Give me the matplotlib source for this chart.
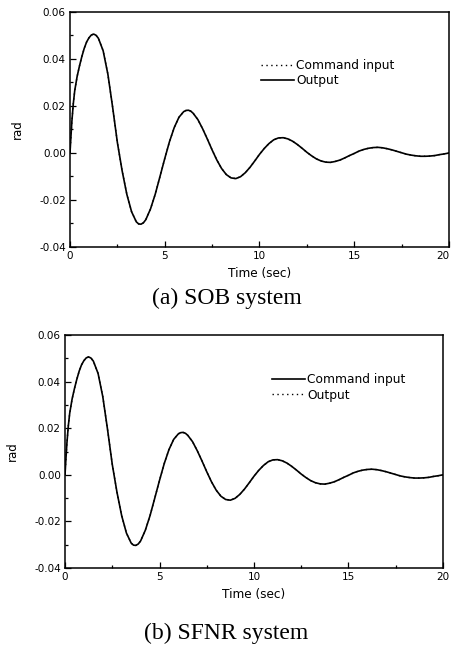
import matplotlib
matplotlib.use("Agg")
import matplotlib.pyplot as plt
from matplotlib.ticker import MultipleLocator

# =============================
# DATA
# =============================
time_sec = [0.0, 0.05, 0.1, 0.175, 0.25, 0.375, 0.5, 0.625, 0.75, 0.875, 1.0, 1.125, 1.25, 1.375, 1.5,
            1.75, 2.0, 2.25, 2.5, 2.75,
            3.0, 3.25, 3.5, 3.625, 3.75, 3.875, 4.0, 4.25, 4.5, 4.75, 5.0, 5.25, 5.5, 5.75,
            6.0, 6.125, 6.25, 6.375, 6.5, 6.75, 7.0, 7.25, 7.5, 7.75, 8.0, 8.25, 8.5, 8.75,
            9.0, 9.25, 9.5, 9.75, 10.0, 10.25, 10.5, 10.75, 11.0, 11.25, 11.5, 11.75,
            12.0, 12.25, 12.5, 12.75, 13.0, 13.25, 13.5, 13.75, 14.0, 14.25, 14.5, 14.75,
            15.0, 15.25, 15.5, 15.75, 16.0, 16.25, 16.5, 16.75, 17.0, 17.25, 17.5, 17.75,
            18.0, 18.25, 18.5, 18.75, 19.0, 19.25, 19.5, 19.75, 20.0]

command_rad = [0.0000, 0.0070, 0.0135, 0.0210, 0.0265, 0.0325, 0.0370, 0.0410, 0.0445, 0.0472, 0.0490, 0.0502, 0.0506, 0.0501, 0.0488,
               0.0435, 0.0335, 0.0195, 0.0045, -0.0075,
               -0.0176, -0.0250, -0.0293, -0.0302, -0.0303, -0.0297, -0.0284, -0.0238, -0.0175, -0.0100, -0.0024, 0.0048, 0.0108, 0.0152,
               0.0176, 0.0181, 0.0182, 0.0178, 0.0169, 0.0142, 0.0103, 0.0059, 0.0013, -0.0030, -0.0066, -0.0092, -0.0106, -0.0109,
               -0.0101, -0.0084, -0.0061, -0.0034, -0.0006, 0.0019, 0.0040, 0.0056, 0.0064, 0.0065, 0.0060, 0.0050,
               0.0036, 0.0020, 0.0003, -0.0012, -0.0025, -0.0034, -0.0039, -0.0040, -0.0036, -0.0030, -0.0021, -0.0011,
               -0.0002, 0.0008, 0.0015, 0.0020, 0.0023, 0.0024, 0.0022, 0.0018, 0.0013, 0.0007, 0.0001, -0.0005,
               -0.0009, -0.0012, -0.0014, -0.0014, -0.0013, -0.0011, -0.0007, -0.0004, 0.0000]

# output tracks the command so closely the two curves overlap
output_rad = list(command_rad)

x_ticks = [0, 5, 10, 15, 20]
y_ticks = [-0.04, -0.02, 0.0, 0.02, 0.04, 0.06]
captions = ["(a) SOB system", "(b) SFNR system"]

SANS = "DejaVu Sans"
SERIF = "Liberation Serif"

fig = plt.figure(figsize=(4.53, 6.45), dpi=100)

# axes boxes in figure fraction (left, bottom, width, height)
boxes = [(0.1545, 0.6171, 0.8366, 0.3643),
         (0.1435, 0.1194, 0.8344, 0.3612)]
legend_anchor = [(0.505, 0.80), (0.548, 0.835)]
caption_y = [0.538, 0.0186]


def style_axes(ax):
    ax.set_xlim(0, 20)
    ax.set_ylim(-0.04, 0.06)
    ax.xaxis.set_minor_locator(MultipleLocator(2.5))
    ax.yaxis.set_minor_locator(MultipleLocator(0.01))
    ax.tick_params(which="both", direction="in", top=False, right=False,
                   width=0.9, labelsize=7.5, pad=3)
    ax.tick_params(which="major", length=4)
    ax.tick_params(which="minor", length=2.5)
    ax.set_xticks(x_ticks)
    ax.set_xticklabels([str(v) for v in x_ticks], family=SANS)
    ax.set_yticks(y_ticks)
    ax.set_yticklabels([f"{v:.2f}" for v in y_ticks], family=SANS)
    for s in ax.spines.values():
        s.set_linewidth(1.1)
    ax.set_xlabel("Time (sec)", family=SANS, fontsize=8.7, labelpad=4)
    ax.set_ylabel("rad", family=SANS, fontsize=8.5, labelpad=11)


for i in range(2):
    ax = fig.add_axes(boxes[i])
    style_axes(ax)

    if i == 0:
        # panel (a): dotted command, solid output
        ax.plot(time_sec, command_rad, color="black", lw=1.0, dashes=(1, 2.5), label="Command input")
        ax.plot(time_sec, output_rad, color="black", lw=1.2, solid_joinstyle="round", label="Output")
        # last x label sits on the figure edge, pull it inside
        ax.get_xticklabels()[-1].set_horizontalalignment("right")
    else:
        # panel (b): solid command, dotted output
        ax.plot(time_sec, command_rad, color="black", lw=1.2, solid_joinstyle="round", label="Command input")
        ax.plot(time_sec, output_rad, color="black", lw=1.0, dashes=(1, 2.5), label="Output")

    ax.legend(loc="upper left", bbox_to_anchor=legend_anchor[i], frameon=False,
              prop={"family": SANS, "size": 8.8}, handlelength=2.7, handletextpad=0.15,
              labelspacing=0.18, borderpad=0, borderaxespad=0)

    fig.text(0.5, caption_y[i], captions[i], ha="center", va="center",
             family=SERIF, fontsize=17)

fig.savefig("out.png", dpi=100)
